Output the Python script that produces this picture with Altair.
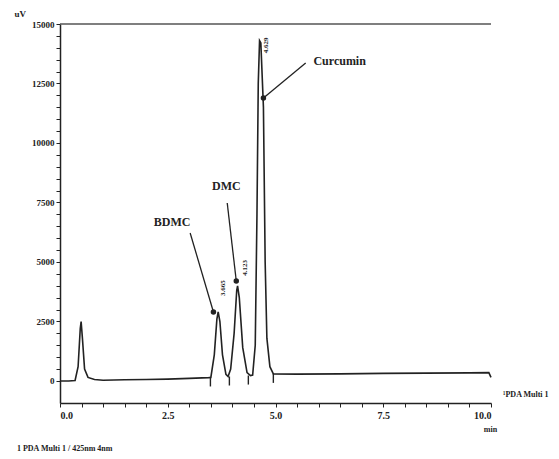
import altair as alt
import pandas as pd

# Chromatogram trace (time in min, signal in uV)
time = [0.0, 0.2, 0.35, 0.42, 0.47, 0.49, 0.52, 0.57, 0.65, 0.8, 1.0, 1.5, 2.0, 2.5, 3.0,
        3.45, 3.50, 3.58, 3.64, 3.67, 3.71, 3.77, 3.85, 3.90,
        3.96, 4.04, 4.10, 4.12, 4.16, 4.24, 4.34, 4.42,
        4.47, 4.53, 4.57, 4.60, 4.63, 4.66, 4.72, 4.76, 4.80, 4.87, 4.95,
        5.5, 6.5, 7.5, 8.5, 9.5, 9.95, 10.0]
signal = [0, 0, 20, 600, 2200, 2500, 1800, 500, 150, 60, 30, 50, 60, 80, 110,
          140, 150, 1100, 2600, 2900, 2500, 1100, 280, 190,
          500, 2000, 3800, 4000, 3500, 1400, 350, 230,
          250, 1500, 7000, 12500, 14300, 14200, 11500, 5000, 1800, 600, 300,
          290, 300, 320, 330, 340, 350, 150]

# Peak names and annotation positions
peak_names = ["BDMC", "DMC", "Curcumin"]
name_t = [2.60, 3.86, 5.88]
name_v = [6700, 8200, 13440]
name_align = ["center", "center", "left"]
lead_t1 = [3.02, 3.88, 5.70]
lead_v1 = [6220, 7480, 13360]
lead_t2 = [3.56, 4.09, 4.72]
lead_v2 = [2900, 4200, 11890]

# Retention time labels
rt_text = ["3.665", "4.123", "4.629"]
rt_t = [3.79, 4.30, 4.77]
rt_v = [3900, 4750, 14100]

# Integration markers
mark_t = [3.49, 3.93, 4.37, 4.95]
mark_v = [150, 190, 230, 300]

y_ticks = list(range(0, 15001, 500))
x_ticks = [i * 0.5 for i in range(21)]

FONT = "Liberation Serif"
INK = "#222222"

trace = pd.DataFrame({"t": time, "v": signal})
names = pd.DataFrame({"name": peak_names, "t": name_t, "v": name_v, "align": name_align,
                      "t1": lead_t1, "v1": lead_v1, "t2": lead_t2, "v2": lead_v2})
rts = pd.DataFrame({"txt": rt_text, "t": rt_t, "v": rt_v})
marks = pd.DataFrame({"t": mark_t, "v": mark_v, "v0": [v - 380 for v in mark_v]})

xs = alt.Scale(domain=[0, 10], nice=False, zero=False)
ys = alt.Scale(domain=[-925, 15000], nice=False, zero=False)

ax_x = alt.Axis(
    values=x_ticks, labelOverlap=False,
    labelExpr="(round(datum.value * 10) % 25 == 0) ? format(datum.value, '.1f') : ''",
    title="min", titleX=430, titleY=22, titleFontSize=8, titleFont=FONT,
    titleFontWeight="bold", titleColor=INK,
    labelFont=FONT, labelFontSize=10, labelFontWeight="bold", labelColor=INK,
    domainColor=INK, domainWidth=1.5, tickColor=INK, tickSize=4, grid=False,
    labelPadding=3)
ax_y = alt.Axis(
    values=y_ticks, labelOverlap=False,
    labelExpr="(datum.value % 2500 == 0) ? format(datum.value, 'd') : ''",
    title="uV", titleAngle=0, titleX=-46, titleY=-6, titleFontSize=9, titleFont=FONT,
    titleFontWeight="bold", titleColor=INK, titleAlign="left",
    labelFont=FONT, labelFontSize=9, labelFontWeight="bold", labelColor=INK,
    domainColor=INK, domainWidth=1.5, tickColor=INK, tickSize=4, grid=False,
    labelPadding=2)


def X(field):
    return alt.X(field, scale=xs, axis=ax_x)


def Y(field):
    return alt.Y(field, scale=ys, axis=ax_y)


line = alt.Chart(trace).mark_line(color=INK, strokeWidth=1.6).encode(
    x=X("t:Q"), y=Y("v:Q"))

top_rule = alt.Chart(pd.DataFrame({"v": [15000]})).mark_rule(color="#555555", strokeWidth=1.5).encode(
    y=Y("v:Q"), x=alt.value(0), x2=alt.value(431))

leaders = alt.Chart(names).mark_rule(color=INK, strokeWidth=1.3).encode(
    x=X("t1:Q"), y=Y("v1:Q"), x2="t2:Q", y2="v2:Q")

dots = alt.Chart(names).mark_point(filled=True, color=INK, size=30, opacity=1).encode(
    x=X("t2:Q"), y=Y("v2:Q"))

name_center = alt.Chart(names[names["align"] == "center"]).mark_text(
    font=FONT, fontSize=12, fontWeight="bold", color=INK, align="center", baseline="middle").encode(
    x=X("t:Q"), y=Y("v:Q"), text="name:N")

name_left = alt.Chart(names[names["align"] == "left"]).mark_text(
    font=FONT, fontSize=12, fontWeight="bold", color=INK, align="left", baseline="middle").encode(
    x=X("t:Q"), y=Y("v:Q"), text="name:N")

rt_labels = alt.Chart(rts).mark_text(
    font=FONT, fontSize=7, fontWeight="bold", color=INK, angle=270,
    align="center", baseline="middle").encode(
    x=X("t:Q"), y=Y("v:Q"), text="txt:N")

int_marks = alt.Chart(marks).mark_rule(color=INK, strokeWidth=1.4).encode(
    x=X("t:Q"), y=Y("v:Q"), y2="v0:Q")

extra = pd.DataFrame({
    "txt": ["\u00b9PDA Multi 1", "1  PDA Multi 1 / 425nm 4nm"],
    "t": [10.28, -1.0],
    "v": [-590, -2850],
})
extra_text = alt.Chart(extra).mark_text(
    font=FONT, fontSize=8, fontWeight="bold", color=INK, align="left", baseline="middle").encode(
    x=X("t:Q"), y=Y("v:Q"), text="txt:N")

chart = alt.layer(line, top_rule, leaders, dots, name_center, name_left, rt_labels,
                  int_marks, extra_text).properties(
    width=431, height=379,
    autosize=alt.AutoSizeParams(type="none"),
    padding={"left": 52, "top": 16, "right": 60, "bottom": 56},
    background="white",
).configure_view(stroke=None)

chart.save("out.html", embed_options={"renderer": "svg", "actions": False})
